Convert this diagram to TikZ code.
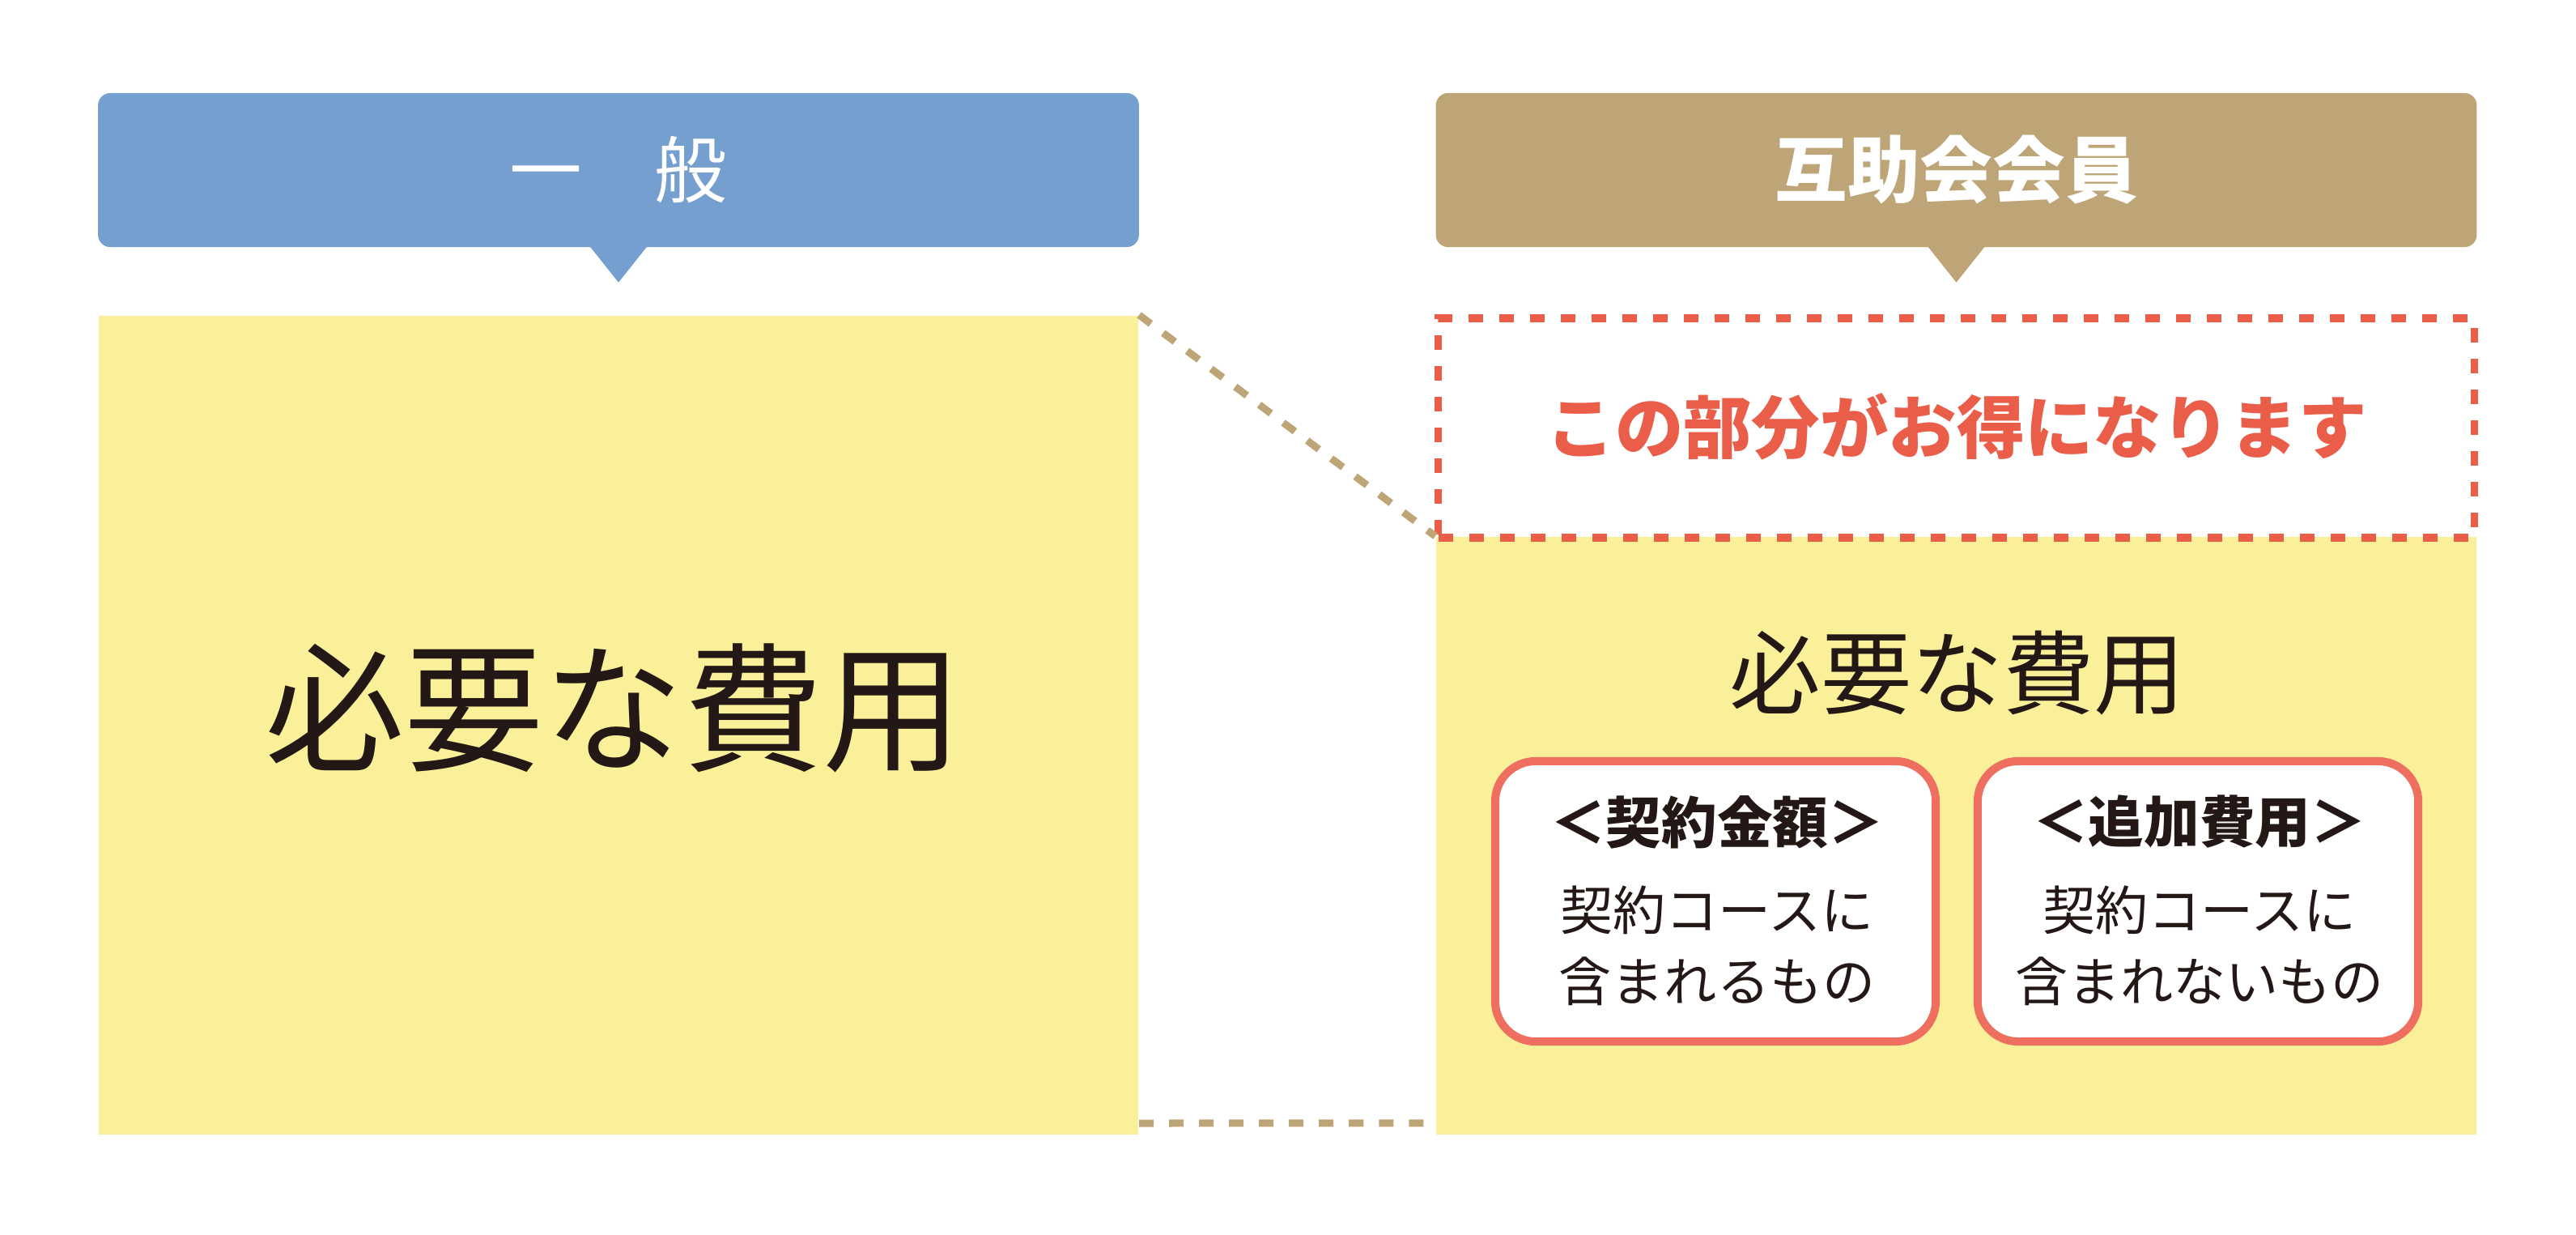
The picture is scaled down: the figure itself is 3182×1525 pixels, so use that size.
\documentclass[tikz,border=0pt]{standalone}
\usepackage{fontspec}
\setmainfont{Noto Sans CJK JP}
\usepackage{tikz}
\usetikzlibrary{calc}
\usetikzlibrary{positioning}
\definecolor{hdblue}{RGB}{116,159,206}
\definecolor{hdtan}{RGB}{190,165,119}
\definecolor{costyellow}{RGB}{250,240,154}
\definecolor{savered}{RGB}{234,93,72}
\definecolor{boxred}{RGB}{238,110,95}
\definecolor{ink}{RGB}{35,24,21}
\tikzset{header/.style={shape=rectangle,minimum width=12.85cm,minimum height=1.90cm,inner sep=0pt,rounded corners=0.15cm,text=white}}
\tikzset{costbox/.style={shape=rectangle,fill=costyellow,inner sep=0pt}}
\tikzset{itembox/.style={shape=rectangle,draw=boxred,fill=white,line width=0.1cm,rounded corners=0.5cm,minimum width=5.44cm,minimum height=3.46cm,inner sep=0pt}}
\tikzset{link/.style={draw=hdtan,line width=0.09cm,dash pattern=on 0.18cm off 0.19cm}}

\begin{document}
\begin{tikzpicture}[x=0.01cm,y=-0.01cm]
		\useasboundingbox (0,0) rectangle (3182,1525);
		% general
		\node[header, fill=hdblue, font=\fontsize{25.5}{30}\selectfont] (gen) at (764,210) {一　般};
		\fill[hdblue] ($(gen.south)+(-35,-1)$) -- ($(gen.south)+(35,-1)$) -- ($(gen.south)+(0,43)$) -- cycle;
		\node[costbox, minimum width=12.84cm, minimum height=10.11cm] (genbox) at (764,895.5) {};
		\node[text=ink, font=\fontsize{49}{58}\selectfont] (gencost) at (758,874) {必要な費用};
		% member
		\node[header, fill=hdtan, font=\bfseries\fontsize{25.5}{30}\selectfont] (mem) at (2416.5,210) {互助会会員};
		\fill[hdtan] ($(mem.south)+(-35,-1)$) -- ($(mem.south)+(35,-1)$) -- ($(mem.south)+(0,43)$) -- cycle;
		\node[costbox, minimum width=12.85cm, minimum height=7.38cm] (membox) at (2416.5,1032) {};
		\node[shape=rectangle, draw=savered, line width=0.095cm, dash pattern=on 0.18cm off 0.2cm, minimum width=12.79cm, minimum height=2.71cm, inner sep=0pt] (save) at (2416.5,528.5) {};
		\node[text=savered, font=\bfseries\fontsize{24}{28}\selectfont] (savetext) at (2417,527) {この部分がお得になります};
		\node[text=ink, font=\fontsize{32}{38}\selectfont] (memcost) at (2418,831) {必要な費用};
		\node[itembox] (contract) at (2119,1113) {};
		\node[itembox] (extra) at (2715,1113) {};
		\node[text=ink, font=\bfseries\fontsize{19.5}{24}\selectfont] (contracttitle) at (2121,1015) {＜契約金額＞};
		\node[text=ink, font=\fontsize{18.5}{25}\selectfont, align=center] (contracttext) at (2121,1168) {契約コースに\\含まれるもの};
		\node[text=ink, font=\bfseries\fontsize{19.5}{24}\selectfont] (extratitle) at (2717,1015) {＜追加費用＞};
		\node[text=ink, font=\fontsize{18.5}{25}\selectfont, align=center] (extratext) at (2717,1168) {契約コースに\\含まれないもの};
		% links
		\path[link] (genbox.north east) -- (membox.north west);
		\path[link] ($(genbox.south east)+(0,-15)$) -- ($(membox.south west)+(0,-15)$);
	\end{tikzpicture}
\end{document}
